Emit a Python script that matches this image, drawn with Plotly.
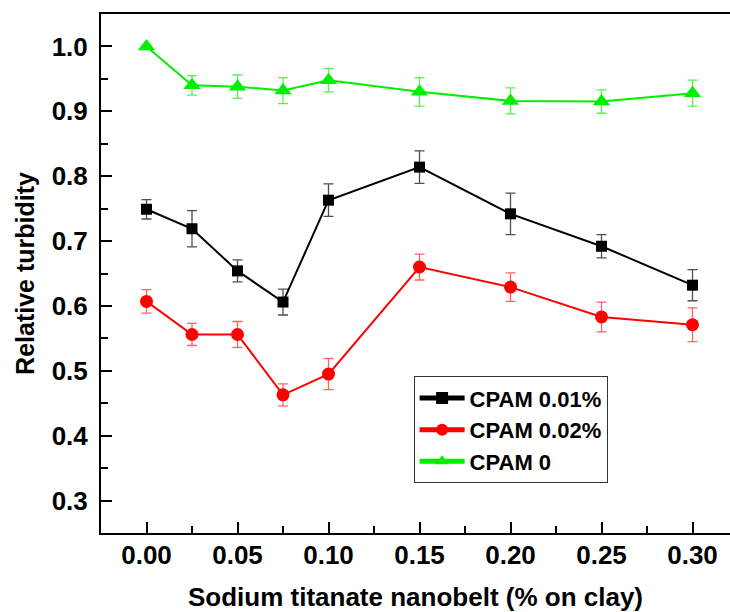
import plotly.graph_objects as go

x_vals = [0.0, 0.025, 0.05, 0.075, 0.10, 0.15, 0.20, 0.25, 0.30]

cpam001 = [0.749, 0.719, 0.654, 0.606, 0.763, 0.814, 0.742, 0.692, 0.632]
cpam001_err = [0.015, 0.028, 0.017, 0.02, 0.025, 0.025, 0.032, 0.018, 0.024]

cpam002 = [0.607, 0.556, 0.556, 0.463, 0.495, 0.660, 0.629, 0.583, 0.571]
cpam002_err = [0.018, 0.017, 0.02, 0.017, 0.024, 0.02, 0.022, 0.023, 0.026]

cpam0 = [1.0, 0.94, 0.938, 0.932, 0.948, 0.930, 0.916, 0.915, 0.928]
cpam0_err = [0.0, 0.015, 0.018, 0.02, 0.018, 0.022, 0.02, 0.018, 0.02]

x_ticks = [0.0, 0.05, 0.10, 0.15, 0.20, 0.25, 0.30]
x_tick_labels = ["0.00", "0.05", "0.10", "0.15", "0.20", "0.25", "0.30"]
y_ticks = [0.3, 0.4, 0.5, 0.6, 0.7, 0.8, 0.9, 1.0]
y_tick_labels = ["0.3", "0.4", "0.5", "0.6", "0.7", "0.8", "0.9", "1.0"]

FONT = "Liberation Sans, Arial, sans-serif"

fig = go.Figure()

series = [
    ("CPAM 0.01%", cpam001, cpam001_err, "#000000", "rgba(60,60,60,0.9)", "square", 11),
    ("CPAM 0.02%", cpam002, cpam002_err, "#ff0000", "rgba(255,60,60,0.8)", "circle", 13),
    ("CPAM 0", cpam0, cpam0_err, "#00ee00", "rgba(40,240,40,0.8)", "triangle-up", 15),
]

for name, ys, errs, col, ecol, sym, sz in series:
    fig.add_trace(go.Scatter(
        x=x_vals, y=ys, name=name, mode="lines+markers",
        line=dict(color=col, width=2),
        marker=dict(symbol=sym, size=sz, color=col),
        error_y=dict(type="data", array=errs, visible=True,
                     color=ecol, thickness=1.3, width=5),
    ))

fig.update_layout(
    width=730, height=612,
    margin=dict(l=101, r=0, t=14, b=79),
    paper_bgcolor="white", plot_bgcolor="white",
    font=dict(family=FONT, size=26, color="black"),
    showlegend=True,
    legend=dict(
        x=0.497, y=0.302, xanchor="left", yanchor="top",
        bordercolor="#333333", borderwidth=1, bgcolor="white",
        font=dict(family=FONT, size=22, color="black", weight="bold"),
        tracegroupgap=0, itemsizing="constant", itemwidth=45,
    ),
    xaxis=dict(
        range=[-0.025, 0.3206],
        tickmode="array", tickvals=x_ticks, ticktext=x_tick_labels,
        ticks="inside", ticklen=11, tickwidth=2, tickcolor="black",
        minor=dict(dtick=0.025, tick0=0, ticks="inside", ticklen=7, tickwidth=2, tickcolor="black"),
        showline=True, linewidth=2, linecolor="black", mirror=True,
        showgrid=False, zeroline=False,
        tickfont=dict(family=FONT, size=26, weight="bold"),
        ticklabelstandoff=-2,
        title=dict(text="Sodium titanate nanobelt (% on clay)",
                   font=dict(family=FONT, size=26, weight="bold"), standoff=19),
    ),
    yaxis=dict(
        range=[0.25, 1.05],
        tickmode="array", tickvals=y_ticks, ticktext=y_tick_labels,
        ticks="inside", ticklen=11, tickwidth=2, tickcolor="black",
        minor=dict(dtick=0.05, tick0=0, ticks="inside", ticklen=7, tickwidth=2, tickcolor="black"),
        showline=True, linewidth=2, linecolor="black", mirror=False,
        showgrid=False, zeroline=False,
        tickfont=dict(family=FONT, size=26, weight="bold"),
        ticklabelstandoff=6,
        title=dict(text="Relative turbidity",
                   font=dict(family=FONT, size=25, weight="bold"), standoff=10),
    ),
)

fig.write_html("out.html")
